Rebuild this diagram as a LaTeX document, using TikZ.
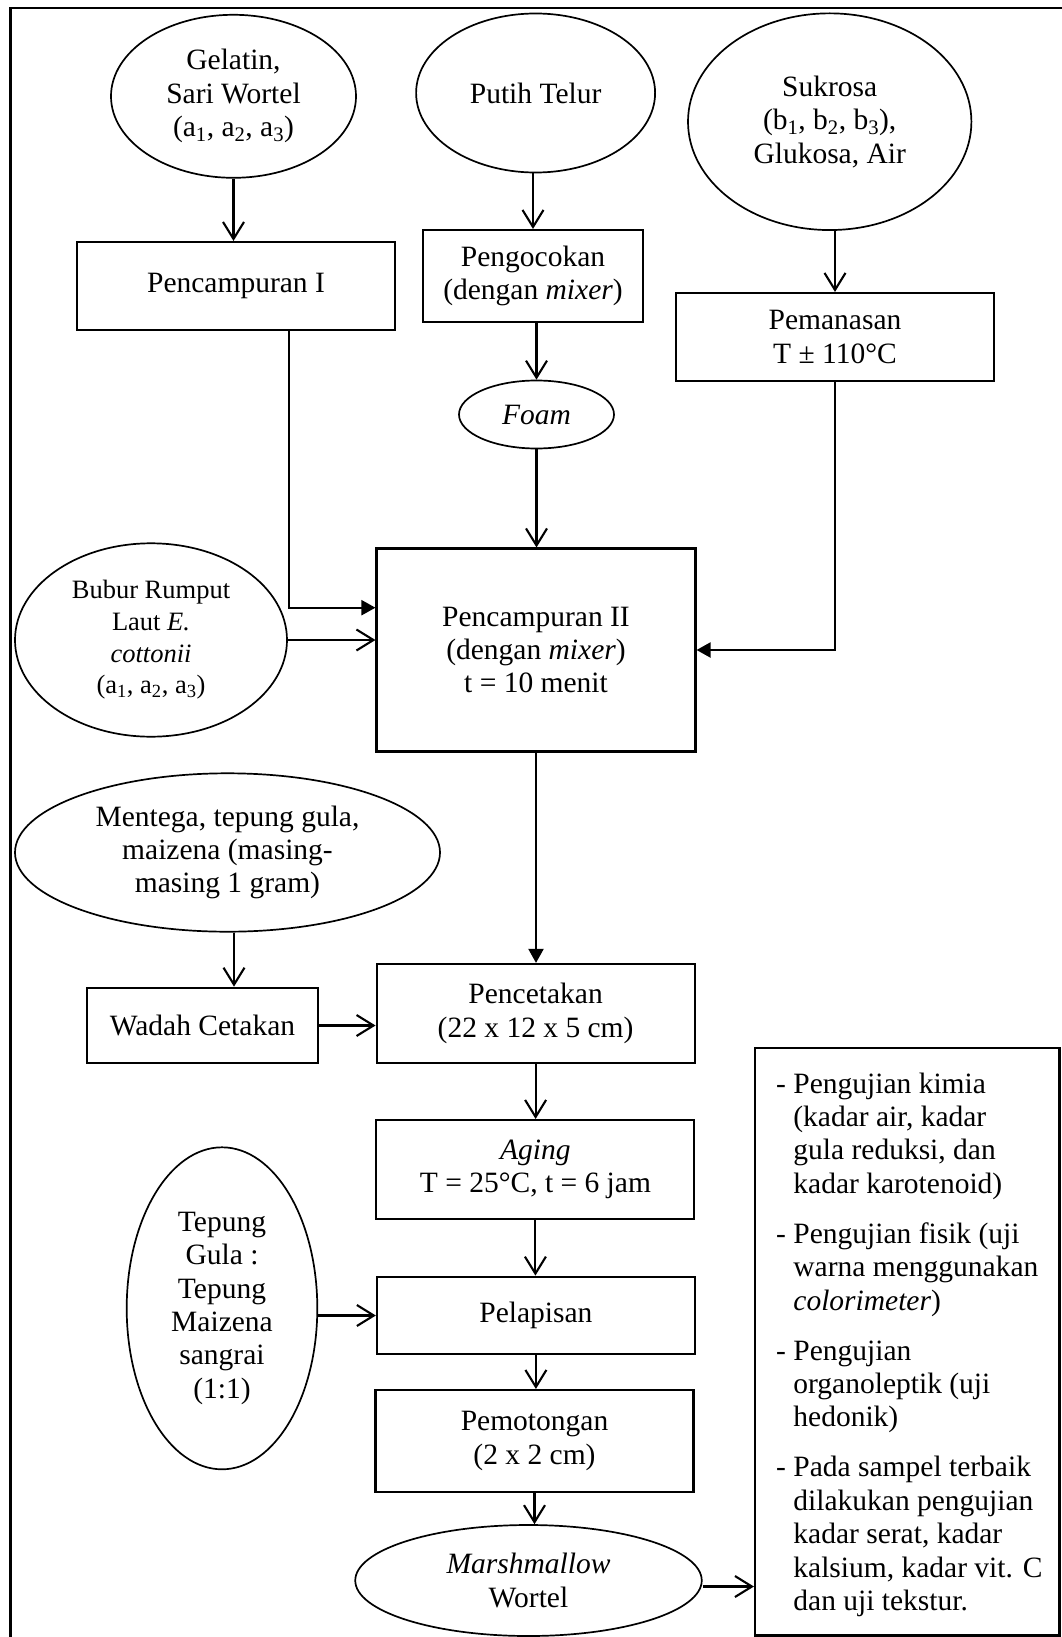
\documentclass[tikz,border=0pt]{standalone}
\usepackage{fontspec}
\setmainfont{Liberation Serif}
\usetikzlibrary{shapes.geometric,arrows.meta}
\newcommand{\contline}{\phantom{-\ }}
\begin{document}
\begin{tikzpicture}[x=1pt,y=-1pt,
  every node/.style={font=\fontsize{29.5}{33.4}\selectfont, align=center, inner sep=0pt},
  box/.style 2 args={draw, rectangle, line width=2.1pt, minimum width=#1, minimum height=#2},
  oval/.style 2 args={draw, ellipse, line width=1.7pt, minimum width=#1, minimum height=#2},
  flow/.style={line width=2.1pt},
  barb/.style={flow, -{Straight Barb[length=17pt,width=21pt]}},
  filltip/.style={flow, -{Triangle[length=14pt,width=15pt]}}
]
\useasboundingbox (0,0) rectangle (1061,1637);

% outer frame (only left and top edges fall inside the page)
\draw[line width=2.1pt] (10.5,1660) -- (10.5,8) -- (1080,8);

% inputs and process steps
\node[oval={245}{163}] (gel) at (233.5,96.3)
  {Gelatin,\\Sari Wortel\\(a\textsubscript{1}, a\textsubscript{2}, a\textsubscript{3})};
\node[box={318.5}{88}] (mix1) at (236,286) {Pencampuran I};

\node[oval={239}{159}] (egg) at (535.6,93) {Putih Telur};
\node[box={220}{92}] (whip) at (533,276) {Pengocokan\\(dengan \textit{mixer})};
\node[oval={155}{68}] (foam) at (536.5,414.5) {\textit{Foam}};

\node[oval={283.4}{216.7}] (suk) at (829.7,121.7)
  {Sukrosa\\(b\textsubscript{1}, b\textsubscript{2}, b\textsubscript{3}),\\Glukosa, Air};
\node[box={318}{88}] (heat) at (835,337) {Pemanasan\\T ± 110°C};

\node[box={319}{203}] (mix2) at (536,650)
  {Pencampuran II\\(dengan \textit{mixer})\\t = 10 menit};
\node[oval={272}{193.4}, font=\fontsize{26.5}{31.7}\selectfont] (sea) at (151,640)
  {Bubur Rumput\\Laut \textit{E.}\\\textit{cottonii}\\(a\textsubscript{1}, a\textsubscript{2}, a\textsubscript{3})};

\node[oval={425}{158.4}] (butter) at (227.5,852.5)
  {Mentega, tepung gula,\\maizena (masing-\\masing 1 gram)};
\node[box={230.5}{75.6}] (mould) at (202.5,1025.5) {Wadah Cetakan};
\node[box={318}{98.7}] (print) at (535.6,1013.3) {Pencetakan\\(22 x 12 x 5 cm)};
\node[box={318}{99}] (aging) at (535.4,1169.5) {\textit{Aging}\\T = 25°C, t = 6 jam};

\node[oval={190.6}{322}] (dust) at (222,1308.3)
  {Tepung\\Gula :\\Tepung\\Maizena\\sangrai\\(1:1)};
\node[box={318}{77.7}] (coat) at (535.9,1315.5) {Pelapisan};
\node[box={318}{102}] (cut) at (534.5,1441) {Pemotongan\\(2 x 2 cm)};
\node[oval={346.5}{111}] (prod) at (528.5,1580.5) {\textit{Marshmallow}\\Wortel};

% analysis box
\node[box={304.5}{587.5}] (tests) at (907.25,1341.75) {};
\node[anchor=north west, align=left] (testtext) at (776,1069.6)
  {\strut- Pengujian kimia\\
   \contline(kadar air, kadar\\
   \contline gula reduksi, dan\\
   \contline kadar karotenoid)\\[16.6pt]
   - Pengujian fisik (uji\\
   \contline warna menggunakan\\
   \contline\textit{colorimeter})\\[16.6pt]
   - Pengujian\\
   \contline organoleptik (uji\\
   \contline hedonik)\\[16.6pt]
   - Pada sampel terbaik\\
   \contline dilakukan pengujian\\
   \contline kadar serat, kadar\\
   \contline kalsium, kadar vit. C\\
   \contline dan uji tekstur.};

% connectors
\draw[barb] (gel.south) -- (gel.south |- mix1.north);
\draw[barb] (whip.north |- egg.south) -- (whip.north);
\draw[barb] (foam.north |- whip.south) -- (foam.north);
\draw[barb] (foam.south) -- (foam.south |- mix2.north);
\draw[barb] (heat.north |- suk.south) -- (heat.north);
\draw[filltip] ([xshift=53pt]mix1.south) |- ([yshift=42.3pt]mix2.west);
\draw[barb] (sea.east) -- (sea.east -| mix2.west);
\draw[filltip] (heat.south) |- (mix2.east);
\draw[filltip] (mix2.south) -- (mix2.south |- print.north);
\draw[barb] ([xshift=6.5pt]butter.south) -- ([xshift=6.5pt]butter.south |- mould.north);
\draw[barb] (mould.east) -- (mould.east -| print.west);
\draw[barb] (print.south) -- (print.south |- aging.north);
\draw[barb] (aging.south) -- (aging.south |- coat.north);
\draw[barb] (dust.east |- coat.west) -- (coat.west);
\draw[barb] (coat.south) -- (coat.south |- cut.north);
\draw[barb] (cut.south) -- (cut.south |- prod.north);
\draw[barb] ([yshift=-6pt]prod.east) -- ([yshift=-6pt]prod.east -| tests.west);
\end{tikzpicture}
\end{document}
